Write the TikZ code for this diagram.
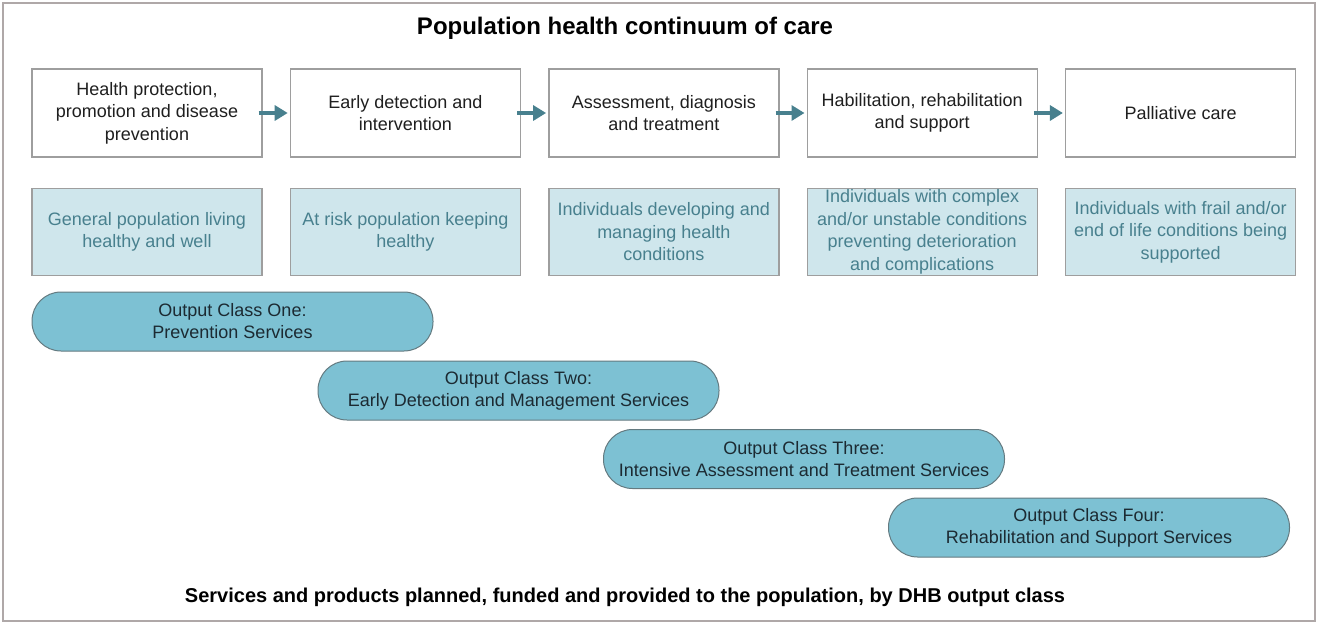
\documentclass[tikz,border=0pt]{standalone}
\usepackage{fontspec}
\setmainfont{Liberation Sans}
\usetikzlibrary{arrows.meta,positioning}
\definecolor{framegray}{RGB}{175,168,168}
\definecolor{boxgray}{RGB}{158,158,158}
\definecolor{grouplight}{RGB}{207,230,236}
\definecolor{groupteal}{RGB}{72,128,142}
\definecolor{classblue}{RGB}{125,193,211}
\definecolor{classedge}{RGB}{100,122,128}
\definecolor{classtext}{RGB}{28,42,50}

\begin{document}
\begin{tikzpicture}[
    x=1pt,y=1pt,
    node distance=27pt,
    stage/.style={rectangle,draw=boxgray,fill=white,line width=1.4pt,
      minimum width=230pt,minimum height=88pt,inner sep=0pt,align=center,
      text=black!88,font=\fontsize{18}{22.5}\selectfont},
    group/.style={rectangle,draw=boxgray,fill=grouplight,line width=1.4pt,
      minimum width=230pt,minimum height=87pt,inner sep=0pt,align=center,
      text=groupteal,font=\fontsize{18}{22.5}\selectfont},
    outclass/.style={rectangle,rounded corners=29pt,draw=classedge,fill=classblue,
      line width=1pt,minimum width=401pt,minimum height=59pt,inner sep=0pt,
      align=center,text=classtext,font=\fontsize{18}{22}\selectfont},
    flow/.style={-{Triangle[length=13pt,width=15pt]},line width=4.5pt,draw=groupteal,
      shorten <=-4pt,shorten >=2pt}
  ]
    \useasboundingbox (0,0) rectangle (1318,-624);
    \draw[framegray,line width=1.6pt] (3,-3) rectangle (1315,-621);

    \node[font=\bfseries\fontsize{24}{28}\selectfont] (title) at (625,-28)
      {Population health continuum of care};

    % continuum stages
    \node[stage] (s1) at (147,-113) {Health protection,\\promotion and disease\\prevention};
    \node[stage,right=of s1] (s2) {Early detection and\\intervention};
    \node[stage,right=of s2] (s3) {Assessment, diagnosis\\and treatment};
    \node[stage,right=of s3] (s4) {Habilitation, rehabilitation\\and support};
    \node[stage,right=of s4] (s5) {Palliative care};

    % population groups
    \node[group,below=30pt of s1] (g1) {General population living\\healthy and well};
    \node[group,below=30pt of s2] (g2) {At risk population keeping\\healthy};
    \node[group,below=30pt of s3] (g3) {Individuals developing and\\managing health\\conditions};
    \node[group,below=30pt of s4] (g4) {Individuals with complex\\and/or unstable conditions\\preventing deterioration\\and complications};
    \node[group,below=30pt of s5] (g5) {Individuals with frail and/or\\end of life conditions being\\supported};

    \draw[flow] (s1) -- (s2);
    \draw[flow] (s2) -- (s3);
    \draw[flow] (s3) -- (s4);
    \draw[flow] (s4) -- (s5);

    % output classes
    \node[outclass] (c1) at (232.5,-321.5) {Output Class One:\\Prevention Services};
    \node[outclass] (c2) at (518.5,-390.5) {Output Class Two:\\Early Detection and Management Services};
    \node[outclass] (c3) at (804,-459) {Output Class Three:\\Intensive Assessment and Treatment Services};
    \node[outclass] (c4) at (1089,-527.5) {Output Class Four:\\Rehabilitation and Support Services};

    \node[font=\bfseries\fontsize{20}{24}\selectfont] (note) at (625,-597)
      {Services and products planned, funded and provided to the population, by DHB output class};
  \end{tikzpicture}
\end{document}
